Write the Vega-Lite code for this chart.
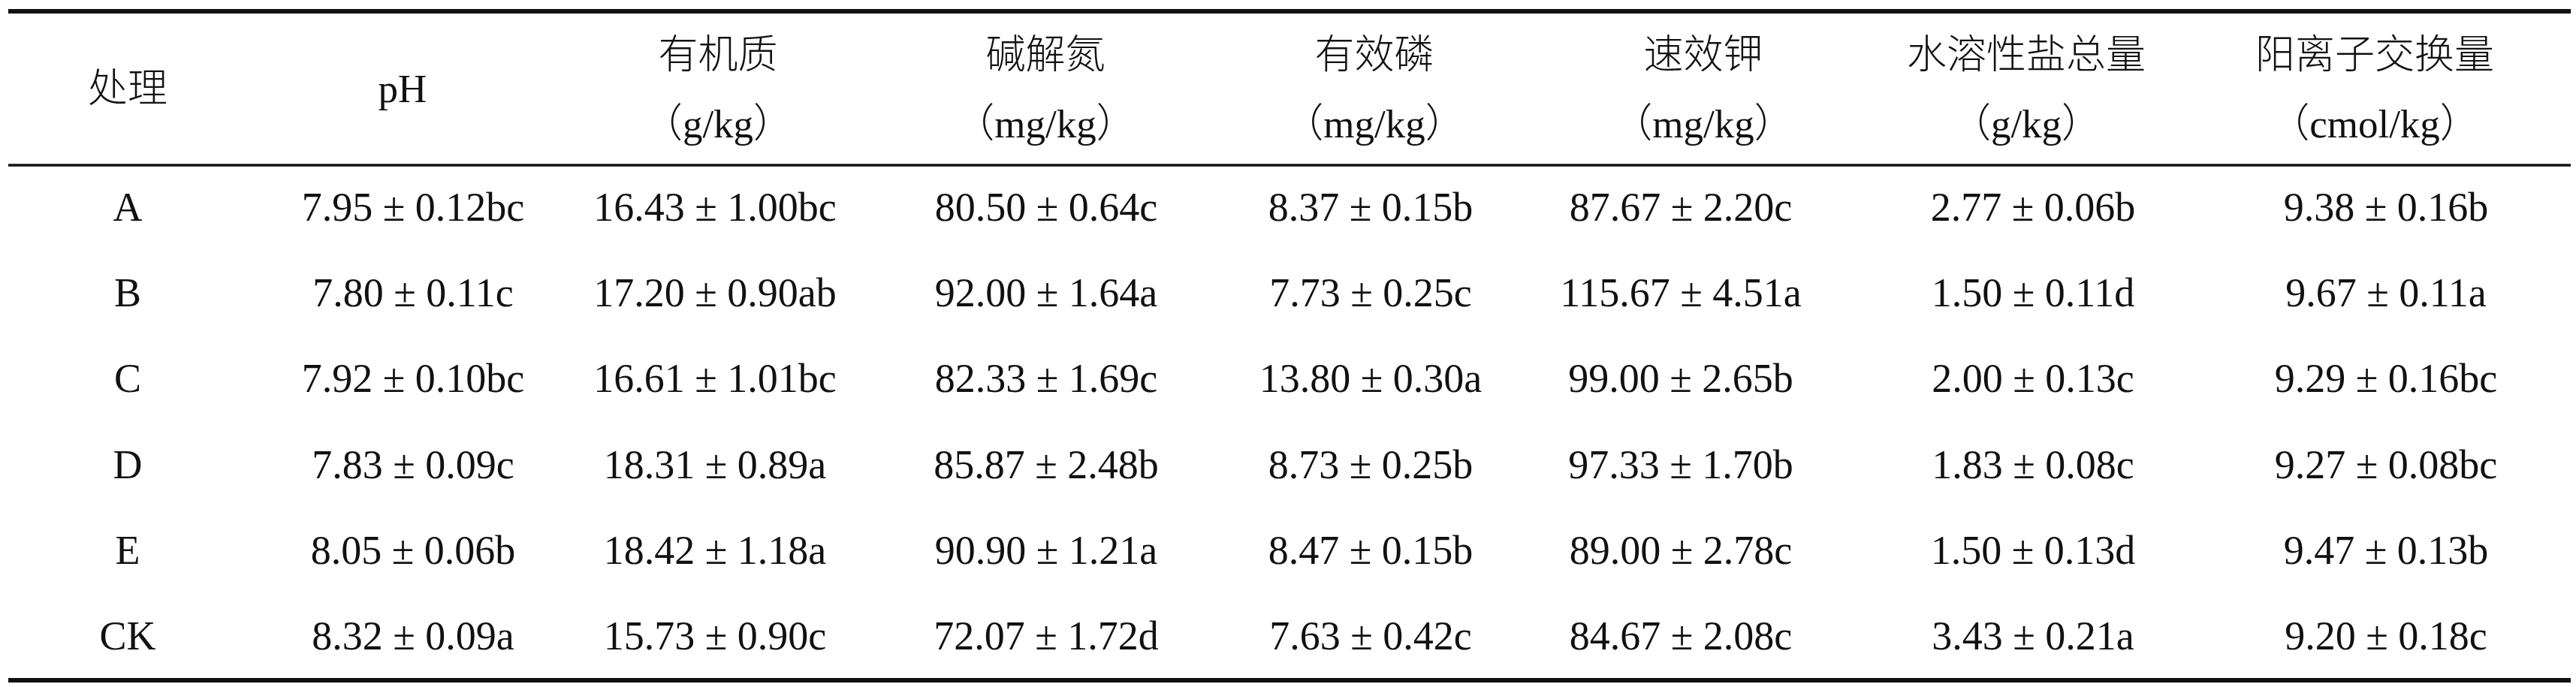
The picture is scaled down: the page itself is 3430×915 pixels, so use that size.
{
  "$schema": "https://vega.github.io/schema/vega-lite/v6.json",
  "width": 3412,
  "height": 915,
  "padding": {"left": 8, "right": 10, "top": 0, "bottom": 0},
  "background": "white",
  "config": {"view": {"stroke": null}},
  "datasets": {
    "headers": [
      {"k": 0, "col": "处理", "label": "处理"},
      {"k": 1, "col": "pH", "label": "pH"},
      {"k": 2, "col": "有机质", "label": "有机质\n（g/kg）"},
      {"k": 3, "col": "碱解氮", "label": "碱解氮\n（mg/kg）"},
      {"k": 4, "col": "有效磷", "label": "有效磷\n（mg/kg）"},
      {"k": 5, "col": "速效钾", "label": "速效钾\n（mg/kg）"},
      {"k": 6, "col": "水溶性盐总量", "label": "水溶性盐总量\n（g/kg）"},
      {"k": 7, "col": "阳离子交换量", "label": "阳离子交换量\n（cmol/kg）"}
    ],
    "rows": [
      {"处理": "A", "pH": "7.95 ± 0.12bc", "有机质": "16.43 ± 1.00bc", "碱解氮": "80.50 ± 0.64c", "有效磷": "8.37 ± 0.15b", "速效钾": "87.67 ± 2.20c", "水溶性盐总量": "2.77 ± 0.06b", "阳离子交换量": "9.38 ± 0.16b"},
      {"处理": "B", "pH": "7.80 ± 0.11c", "有机质": "17.20 ± 0.90ab", "碱解氮": "92.00 ± 1.64a", "有效磷": "7.73 ± 0.25c", "速效钾": "115.67 ± 4.51a", "水溶性盐总量": "1.50 ± 0.11d", "阳离子交换量": "9.67 ± 0.11a"},
      {"处理": "C", "pH": "7.92 ± 0.10bc", "有机质": "16.61 ± 1.01bc", "碱解氮": "82.33 ± 1.69c", "有效磷": "13.80 ± 0.30a", "速效钾": "99.00 ± 2.65b", "水溶性盐总量": "2.00 ± 0.13c", "阳离子交换量": "9.29 ± 0.16bc"},
      {"处理": "D", "pH": "7.83 ± 0.09c", "有机质": "18.31 ± 0.89a", "碱解氮": "85.87 ± 2.48b", "有效磷": "8.73 ± 0.25b", "速效钾": "97.33 ± 1.70b", "水溶性盐总量": "1.83 ± 0.08c", "阳离子交换量": "9.27 ± 0.08bc"},
      {"处理": "E", "pH": "8.05 ± 0.06b", "有机质": "18.42 ± 1.18a", "碱解氮": "90.90 ± 1.21a", "有效磷": "8.47 ± 0.15b", "速效钾": "89.00 ± 2.78c", "水溶性盐总量": "1.50 ± 0.13d", "阳离子交换量": "9.47 ± 0.13b"},
      {"处理": "CK", "pH": "8.32 ± 0.09a", "有机质": "15.73 ± 0.90c", "碱解氮": "72.07 ± 1.72d", "有效磷": "7.63 ± 0.42c", "速效钾": "84.67 ± 2.08c", "水溶性盐总量": "3.43 ± 0.21a", "阳离子交换量": "9.20 ± 0.18c"}
    ]
  },
  "layer": [
    {
      "layer": [
        {
          "data": {"name": "headers"},
          "transform": [{"filter": "indexof(datum.label, '\\n') < 0"}],
          "mark": {"type": "text", "align": "center", "baseline": "middle", "font": "Liberation Serif, Noto Sans CJK SC", "fontSize": 53, "fontWeight": 300, "lineBreak": "\n", "lineHeight": 92, "color": "#111111", "dy": 2},
          "encoding": {
            "x": {"field": "k", "type": "quantitative", "axis": null, "scale": {"domain": [0, 1, 2, 3, 4, 5, 6, 7], "range": [159, 525, 945, 1381, 1819, 2257, 2687, 3151], "zero": false, "nice": false}},
            "y": {"datum": "text", "type": "nominal", "axis": null, "scale": {"type": "point", "domain": ["top", "text", "bottom"], "range": [15, 220], "padding": 0}},
            "text": {"field": "label", "type": "nominal"}
          }
        },
        {
          "data": {"name": "headers"},
          "transform": [{"filter": "indexof(datum.label, '\\n') >= 0"}],
          "mark": {"type": "text", "align": "center", "baseline": "middle", "font": "Liberation Serif, Noto Sans CJK SC", "fontSize": 53, "fontWeight": 300, "lineBreak": "\n", "lineHeight": 92, "color": "#111111", "dy": -43},
          "encoding": {
            "x": {"field": "k", "type": "quantitative", "axis": null, "scale": {"domain": [0, 1, 2, 3, 4, 5, 6, 7], "range": [159, 525, 945, 1381, 1819, 2257, 2687, 3151], "zero": false, "nice": false}},
            "y": {"datum": "text", "type": "nominal", "axis": null, "scale": {"type": "point", "domain": ["top", "text", "bottom"], "range": [15, 220], "padding": 0}},
            "text": {"field": "label", "type": "nominal"}
          }
        },
        {
          "data": {"values": [{"line": "top"}]},
          "mark": {"type": "rule", "strokeWidth": 6, "color": "#111111"},
          "encoding": {
            "y": {"field": "line", "type": "nominal", "axis": null, "scale": {"type": "point", "domain": ["top", "text", "bottom"], "range": [15, 220], "padding": 0}}
          }
        },
        {
          "data": {"values": [{"line": "bottom"}]},
          "mark": {"type": "rule", "strokeWidth": 3.5, "color": "#111111"},
          "encoding": {
            "y": {"field": "line", "type": "nominal", "axis": null, "scale": {"type": "point", "domain": ["top", "text", "bottom"], "range": [15, 220], "padding": 0}}
          }
        }
      ]
    },
    {
      "layer": [
        {
          "data": {"name": "rows"},
          "transform": [
            {"fold": ["处理", "pH", "有机质", "碱解氮", "有效磷", "速效钾", "水溶性盐总量", "阳离子交换量"], "as": ["col", "value"]},
            {"lookup": "col", "from": {"data": {"name": "headers"}, "key": "col", "fields": ["k"]}}
          ],
          "mark": {"type": "text", "align": "center", "baseline": "middle", "font": "Liberation Serif", "fontSize": 54, "color": "#111111"},
          "encoding": {
            "x": {"field": "k", "type": "quantitative", "axis": null, "scale": {"domain": [0, 1, 2, 3, 4, 5, 6, 7], "range": [159, 539, 941, 1382, 1814, 2227, 2696, 3166], "zero": false, "nice": false}},
            "y": {"field": "处理", "type": "nominal", "axis": null, "sort": null, "scale": {"type": "band", "domain": ["A", "B", "C", "D", "E", "CK"], "range": [221, 906], "paddingInner": 0, "paddingOuter": 0}},
            "text": {"field": "value", "type": "nominal"}
          }
        },
        {
          "data": {"name": "rows"},
          "transform": [{"filter": "datum['处理'] === 'CK'"}],
          "mark": {"type": "rule", "strokeWidth": 6, "color": "#111111"},
          "encoding": {
            "y": {"field": "处理", "type": "nominal", "axis": null, "bandPosition": 1, "scale": {"type": "band", "domain": ["A", "B", "C", "D", "E", "CK"], "range": [221, 906], "paddingInner": 0, "paddingOuter": 0}}
          }
        }
      ]
    }
  ],
  "resolve": {"scale": {"x": "independent", "y": "independent"}}
}
